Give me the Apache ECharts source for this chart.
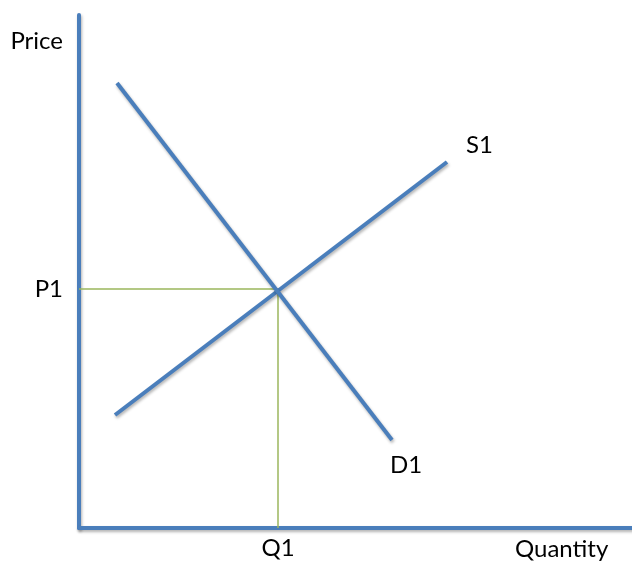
<!DOCTYPE html>
<html>
<head>
<meta charset="utf-8">
<script src="https://cdn.jsdelivr.net/npm/echarts@6/dist/echarts.min.js"></script>
<style>
  html, body { margin: 0; padding: 0; background: #fff; }
  #main { width: 632px; height: 563px; }
</style>
</head>
<body>
<div id="main"></div>
<script>
// quantity / price in plot units (origin at the axes corner)
var demandD1 = [[38, 445], [313, 88]];
var supplyS1 = [[36, 113], [368, 366]];
var equilibrium = [199, 239];
var guideLines = [[0, 239], [199, 239], [199, 0]];
var axisNames = { x: "Quantity", y: "Price" };
var tickLabels = { x: "Q1", y: "P1" };

var blue = "#4a7ebb";
var green = "#9bb65c";
var font = "Lato";
var fs = 24;

var chart = echarts.init(document.getElementById("main"));

// heavy blue line with the soft shadow seen in the picture
function blueLine(extra) {
  return Object.assign({
    color: blue,
    width: 4,
    shadowColor: "rgba(0,0,0,0.3)",
    shadowBlur: 3,
    shadowOffsetX: 1,
    shadowOffsetY: 2
  }, extra || {});
}

chart.setOption({
  animation: false,
  textStyle: { fontFamily: font },
  grid: { left: 79, right: 0, top: 15, bottom: 35, containLabel: false },
  xAxis: {
    type: "value",
    min: 0,
    max: 553,
    splitLine: { show: false },
    axisTick: { show: false },
    axisLine: { lineStyle: blueLine() },
    axisLabel: {
      customValues: [equilibrium[0]],
      formatter: function () { return tickLabels.x; },
      color: "#000",
      fontSize: fs,
      fontFamily: font,
      margin: 8
    },
    name: axisNames.x,
    nameLocation: "end",
    nameGap: -117,
    nameTextStyle: {
      color: "#000",
      fontSize: fs,
      fontFamily: font,
      align: "left",
      verticalAlign: "top",
      padding: [9, 0, 0, 0]
    }
  },
  yAxis: {
    type: "value",
    min: 0,
    max: 513,
    splitLine: { show: false },
    axisTick: { show: false },
    axisLine: { lineStyle: blueLine() },
    axisLabel: {
      customValues: [equilibrium[1]],
      formatter: function () { return tickLabels.y; },
      color: "#000",
      fontSize: fs,
      fontFamily: font,
      margin: 16
    },
    name: axisNames.y,
    nameLocation: "end",
    nameGap: -26,
    nameTextStyle: {
      color: "#000",
      fontSize: fs,
      fontFamily: font,
      align: "right",
      verticalAlign: "middle",
      padding: [0, 16, 0, 0]
    }
  },
  series: [
    {
      name: "guide",
      type: "line",
      data: guideLines,
      symbol: "none",
      silent: true,
      z: 1,
      lineStyle: { color: green, width: 1.5 }
    },
    {
      name: "S1",
      type: "line",
      data: supplyS1,
      symbol: "none",
      z: 2,
      lineStyle: blueLine(),
      endLabel: {
        show: true,
        formatter: "S1",
        color: "#000",
        fontSize: fs,
        fontFamily: font,
        offset: [11, -17]
      }
    },
    {
      name: "D1",
      type: "line",
      data: demandD1,
      symbol: "none",
      z: 3,
      lineStyle: blueLine(),
      endLabel: {
        show: true,
        formatter: "D1",
        color: "#000",
        fontSize: fs,
        fontFamily: font,
        offset: [-10, 25]
      }
    }
  ]
});
</script>
</body>
</html>
